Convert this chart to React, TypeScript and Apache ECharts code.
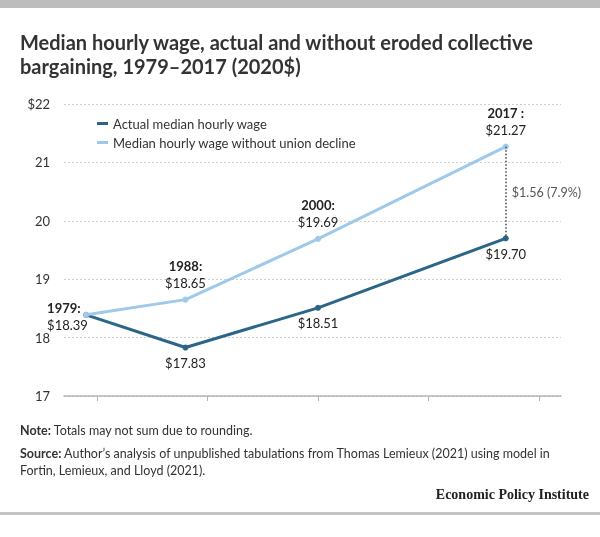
import React, { useEffect, useRef } from "react";
import * as echarts from "echarts";

const years = [1979, 1988, 2000, 2017];
const actualWage = [18.39, 17.83, 18.51, 19.7];
const noDeclineWage = [18.39, 18.65, 19.69, 21.27];
const yearLabels = ["1979:", "1988:", "2000:", "2017 :"];
const seriesNames = ["Actual median hourly wage", "Median hourly wage without union decline"];
const xTicks = [1980, 1990, 2000, 2010, 2020];
const yTicks = [17, 18, 19, 20, 21, 22];
const gapLabel = "$1.56 (7.9%)";

const DARK = "#2b6688";
const LIGHT = "#9fc9ea";
const FONT = "Lato, 'Noto Sans', sans-serif";

const money = (v: number) => "$" + v.toFixed(2);

export default function App() {
  const ref = useRef<HTMLDivElement>(null);
  useEffect(() => {
    document.body.style.margin = "0";
    const chart = echarts.init(ref.current!, null, { renderer: "svg" });

    const darkData = years.map((y, i) => ({
      value: [y, actualWage[i]],
      label:
        i === 0
          ? { show: false }
          : {
              show: true,
              position: "bottom",
              distance: 6,
              formatter: money(actualWage[i]),
            },
    }));

    const lightData = years.map((y, i) => {
      const text = "{y|" + yearLabels[i] + "}\n{v|" + money(noDeclineWage[i]) + "}";
      if (i === 0) {
        return {
          value: [y, noDeclineWage[i]],
          label: {
            show: true,
            position: [-36, -12],
            align: "left",
            verticalAlign: "top",
            formatter: text,
          },
        };
      }
      return {
        value: [y, noDeclineWage[i]],
        label: { show: true, position: "top", distance: 5, formatter: text },
      };
    });

    const labelRich = {
      y: { fontFamily: FONT, fontSize: 13, fontWeight: "bold", color: "#222", lineHeight: 17 },
      v: { fontFamily: FONT, fontSize: 13, color: "#222", lineHeight: 17 },
    };

    const last = years.length - 1;

    chart.setOption({
      animation: false,
      textStyle: { fontFamily: FONT },
      grid: { left: 64, right: 39, top: 104, bottom: 141, containLabel: false, outerBoundsMode: "none" },
      legend: {
        data: seriesNames,
        orient: "vertical",
        left: 97,
        top: 116,
        padding: 0,
        icon: "rect",
        itemWidth: 11,
        itemHeight: 3,
        itemGap: 4,
        textStyle: { fontFamily: FONT, fontSize: 13, color: "#333", lineHeight: 15 },
      },
      xAxis: {
        type: "value",
        min: 1977,
        max: 2022,
        axisLine: { show: true, lineStyle: { color: "#b5b5b5", width: 1.5 } },
        axisTick: { show: true, customValues: xTicks, length: 5, lineStyle: { color: "#b5b5b5", width: 1 } },
        axisLabel: { show: false },
        splitLine: { show: false },
      },
      yAxis: {
        type: "value",
        min: yTicks[0],
        max: yTicks[yTicks.length - 1],
        interval: 1,
        axisLine: { show: false },
        axisTick: { show: false },
        axisLabel: {
          margin: 14,
          fontFamily: FONT,
          fontSize: 13,
          color: "#333",
          formatter: (v: number) => (v === yTicks[yTicks.length - 1] ? "$" + v : String(v)),
        },
        splitLine: { show: true, lineStyle: { color: "#cfcfcf", type: [2, 2], width: 1.2 } },
      },
      series: [
        {
          name: seriesNames[0],
          type: "line",
          data: darkData,
          color: DARK,
          lineStyle: { width: 3, color: DARK },
          symbol: "circle",
          symbolSize: 6,
          itemStyle: { color: DARK },
          label: { fontFamily: FONT, fontSize: 13, color: "#222" },
          z: 2,
        },
        {
          name: seriesNames[1],
          type: "line",
          data: lightData,
          color: LIGHT,
          lineStyle: { width: 3, color: LIGHT },
          symbol: "circle",
          symbolSize: 6,
          itemStyle: { color: LIGHT },
          label: { rich: labelRich },
          z: 3,
          markLine: {
            silent: true,
            symbol: "none",
            label: { show: false },
            lineStyle: { color: "#444", type: [1.5, 2], width: 1.5 },
            data: [
              [
                { coord: [years[last], noDeclineWage[last]] },
                { coord: [years[last], actualWage[last]] },
              ],
            ],
          },
          markPoint: {
            silent: true,
            symbol: "circle",
            symbolSize: 0,
            label: {
              show: true,
              position: "right",
              distance: 6,
              formatter: gapLabel,
              fontFamily: FONT,
              fontSize: 12.5,
              color: "#555",
            },
            data: [{ coord: [years[last], (noDeclineWage[last] + actualWage[last]) / 2] }],
          },
        },
      ],
      graphic: [
        { type: "rect", left: 0, top: 0, shape: { width: 600, height: 8 }, style: { fill: "#bdbdbd" } },
        { type: "rect", left: 0, top: 512, shape: { width: 600, height: 3 }, style: { fill: "#c4c4c4" } },
        {
          type: "text",
          left: 20,
          top: 30,
          style: {
            text: "Median hourly wage, actual and without eroded collective\nbargaining, 1979–2017 (2020$)",
            fontFamily: FONT,
            fontSize: 20,
            fontWeight: "bold",
            fill: "#333",
            lineHeight: 24,
          },
        },
        {
          type: "text",
          left: 20,
          top: 424,
          style: {
            text: "{b|Note:} Totals may not sum due to rounding.",
            rich: {
              b: { fontFamily: FONT, fontSize: 12.5, fontWeight: "bold", fill: "#333" },
            },
            fontFamily: FONT,
            fontSize: 12.5,
            fill: "#333",
          },
        },
        {
          type: "text",
          left: 20,
          top: 445,
          style: {
            text:
              "{b|Source:} Author’s analysis of unpublished tabulations from Thomas Lemieux (2021) using model in\nFortin, Lemieux, and Lloyd (2021).",
            rich: {
              b: { fontFamily: FONT, fontSize: 12.5, fontWeight: "bold", fill: "#333", lineHeight: 17 },
            },
            fontFamily: FONT,
            fontSize: 12.5,
            lineHeight: 17,
            fill: "#333",
          },
        },
        {
          type: "text",
          right: 11,
          top: 487,
          style: {
            text: "Economic Policy Institute",
            fontFamily: "'Liberation Serif', serif",
            fontSize: 14,
            fontWeight: "bold",
            fill: "#222",
          },
        },
      ],
    });
    return () => chart.dispose();
  }, []);
  return <div ref={ref} style={{ position: "fixed", left: 0, top: 0, width: 600, height: 537 }} />;
}
